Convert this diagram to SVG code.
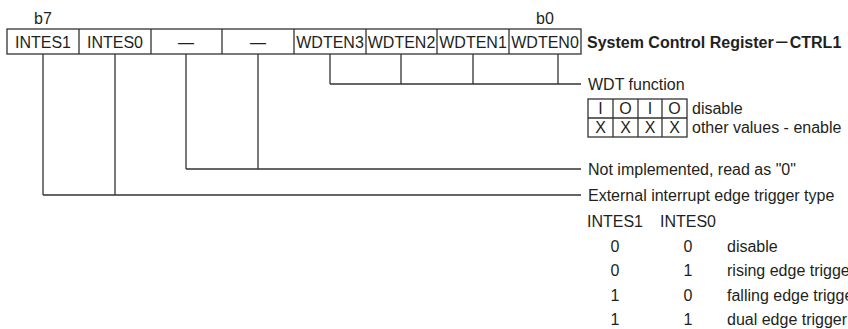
<svg xmlns="http://www.w3.org/2000/svg" width="848" height="329" viewBox="0 0 848 329">
<style>
text{font-family:"Liberation Sans",Arial,sans-serif;font-size:16px;fill:#231f20}
.c{text-anchor:middle}
.b{font-weight:bold}
.box{fill:none;stroke:#333;stroke-width:1.3}
.ln{fill:none;stroke:#333;stroke-width:1.3}
</style>
<rect width="848" height="329" fill="#fff"/>
<g id="bitlabels">
<text class="c" x="43" y="24">b7</text>
<text class="c" x="545" y="24">b0</text>
</g>
<g id="register">
<rect class="box" x="7" y="29" width="574" height="25"/>
<path class="ln" d="M79 29V54M151 29V54M222 29V54M294 29V54M366 29V54M437 29V54M509 29V54"/>
<text class="c" x="43" y="47.5">INTES1</text>
<text class="c" x="115" y="47.5">INTES0</text>
<text class="c" x="186" y="47.5">—</text>
<text class="c" x="258" y="47.5">—</text>
<text class="c" x="330" y="47.5">WDTEN3</text>
<text class="c" x="401.5" y="47.5">WDTEN2</text>
<text class="c" x="473" y="47.5">WDTEN1</text>
<text class="c" x="545" y="47.5">WDTEN0</text>
</g>
<g id="title">
<text class="b" x="587" y="47.5">System Control Register<tspan font-family="'Noto Sans CJK SC',sans-serif">－</tspan>CTRL1</text>
</g>
<g id="connectors">
<path class="ln" d="M330 54V84M401 54V84M473 54V84M558 54V84M330 84H581"/>
<path class="ln" d="M186 54V169M258 54V169M186 169H581"/>
<path class="ln" d="M43 54V195M115 54V195M43 195H581"/>
</g>
<g id="wdt">
<text x="588" y="90">WDT function</text>
<rect class="box" x="588" y="99" width="99" height="38"/>
<path class="ln" d="M588 118H687M613 99V137M638 99V137M662 99V137"/>
<text class="c" x="600.5" y="114">I</text>
<text class="c" x="625.5" y="114">O</text>
<text class="c" x="650" y="114">I</text>
<text class="c" x="674.5" y="114">O</text>
<text class="c" x="600.5" y="133">X</text>
<text class="c" x="625.5" y="133">X</text>
<text class="c" x="650" y="133">X</text>
<text class="c" x="674.5" y="133">X</text>
<text x="692" y="114">disable</text>
<text x="692" y="133">other values - enable</text>
</g>
<g id="notimpl">
<text x="588" y="175">Not implemented, read as "0"</text>
</g>
<g id="intes">
<text x="588" y="201">External interrupt edge trigger type</text>
<text x="587" y="227">INTES1</text>
<text x="660" y="227">INTES0</text>
<text class="c" x="615" y="251.5">0</text><text class="c" x="688" y="251.5">0</text><text x="727" y="251.5">disable</text>
<text class="c" x="615" y="276">0</text><text class="c" x="688" y="276">1</text><text x="727" y="276">rising edge trigger</text>
<text class="c" x="615" y="300.5">1</text><text class="c" x="688" y="300.5">0</text><text x="727" y="300.5">falling edge trigger</text>
<text class="c" x="615" y="325">1</text><text class="c" x="688" y="325">1</text><text x="727" y="325">dual edge trigger</text>
</g>
</svg>
